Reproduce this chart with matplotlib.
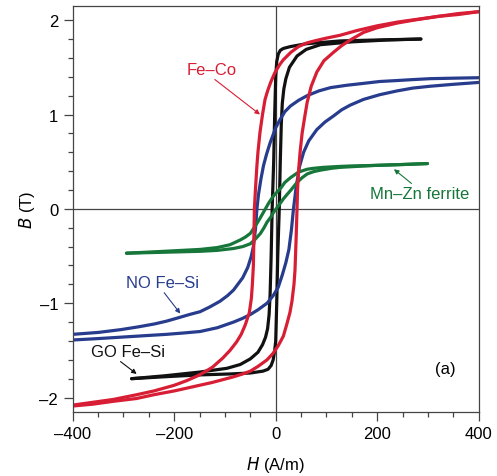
import numpy as np
import matplotlib.pyplot as plt
from matplotlib.ticker import MultipleLocator, FuncFormatter

# Fe-Co loop (H in A/m, B in T)
feco_up_H = [400, 360, 320, 280, 240, 200, 160, 127, 100, 80, 62, 45, 30, 15, 8, -2, -10,
             -16, -21, -26, -31, -35, -37, -40, -42, -43, -44, -46, -48, -52, -60, -68, -77,
             -90, -104, -125, -150, -175, -200, -240, -274, -320, -360, -400]
feco_up_B = [2.09, 2.06, 2.04, 2.01, 1.98, 1.94, 1.89, 1.84, 1.81, 1.785, 1.76, 1.72, 1.66,
             1.58, 1.53, 1.44, 1.34, 1.25, 1.16, 1.00, 0.81, 0.60, 0.46, 0.20, 0.0, -0.30,
             -0.60, -0.80, -0.95, -1.10, -1.23, -1.33, -1.41, -1.50, -1.58, -1.68, -1.76,
             -1.82, -1.87, -1.93, -1.97, -2.02, -2.05, -2.08]
feco_dn_H = [-400, -360, -320, -274, -240, -200, -175, -150, -125, -104, -83, -65, -50, -35,
             -17, -5, 5, 15, 22, 28, 32, 36, 38, 40, 42, 43, 45, 48, 52, 57, 62, 70, 81, 95,
             114, 130, 147, 173, 200, 240, 272, 320, 360, 400]
feco_dn_B = [-2.09, -2.07, -2.04, -2.01, -1.97, -1.93, -1.90, -1.87, -1.84, -1.81, -1.78,
             -1.75, -1.72, -1.67, -1.60, -1.53, -1.45, -1.35, -1.22, -1.10, -0.98, -0.80,
             -0.65, -0.35, 0.0, 0.20, 0.40, 0.60, 0.80, 0.97, 1.13, 1.30, 1.45, 1.57, 1.66,
             1.73, 1.79, 1.87, 1.92, 1.97, 2.00, 2.04, 2.07, 2.09]

# grain-oriented Fe-Si
go_up_H = [286, 200, 127, 60, 29, 15, 9, 5, 2, 0, -2, -4, -7, -9, -11, -13, -16, -20, -26,
           -35, -50, -70, -96, -150, -220, -284]
go_up_B = [1.80, 1.79, 1.78, 1.75, 1.72, 1.70, 1.68, 1.64, 1.56, 1.40, 1.00, 0.50, 0.0,
           -0.50, -0.90, -1.12, -1.27, -1.36, -1.44, -1.52, -1.59, -1.65, -1.69, -1.73,
           -1.77, -1.80]
go_dn_H = [-284, -220, -150, -90, -50, -25, -15, -9, -5, -2, 0, 2, 4, 7, 9, 11, 13, 16, 20,
           27, 42, 60, 88, 150, 220, 286]
go_dn_B = [-1.80, -1.78, -1.76, -1.75, -1.74, -1.72, -1.70, -1.66, -1.60, -1.50, -1.40,
           -1.00, -0.50, 0.0, 0.50, 0.90, 1.12, 1.27, 1.38, 1.50, 1.62, 1.69, 1.74, 1.77,
           1.79, 1.80]

# non-oriented Fe-Si
no_up_H = [400, 350, 305, 270, 239, 205, 173, 140, 108, 85, 62, 45, 29, 18, 9, 0, -11, -18,
           -24, -29, -34, -37, -40, -44, -48, -55, -65, -83, -95, -110, -130, -149, -170,
           -189, -215, -239, -270, -305, -350, -400]
no_up_B = [1.39, 1.385, 1.38, 1.37, 1.36, 1.35, 1.33, 1.31, 1.285, 1.25, 1.20, 1.15, 1.09,
           1.03, 0.95, 0.86, 0.70, 0.58, 0.46, 0.32, 0.15, 0.0, -0.22, -0.40, -0.50, -0.62,
           -0.73, -0.86, -0.92, -0.98, -1.04, -1.09, -1.12, -1.15, -1.19, -1.22, -1.25,
           -1.28, -1.31, -1.33]
no_dn_H = [-400, -350, -305, -260, -215, -180, -149, -115, -83, -65, -50, -35, -17, -5, 5,
           13, 20, 26, 31, 35, 40, 47, 55, 65, 81, 97, 114, 130, 147, 173, 205, 239, 270,
           305, 350, 400]
no_dn_B = [-1.39, -1.375, -1.36, -1.345, -1.33, -1.315, -1.30, -1.26, -1.20, -1.16, -1.12,
           -1.07, -1.00, -0.92, -0.83, -0.70, -0.57, -0.43, -0.22, 0.0, 0.22, 0.45, 0.60,
           0.72, 0.84, 0.92, 0.985, 1.05, 1.10, 1.16, 1.21, 1.25, 1.28, 1.30, 1.32, 1.34]

# Mn-Zn ferrite
mnzn_up_H = [299, 250, 193, 150, 127, 94, 75, 62, 45, 29, 18, 10, 3, -4, -14, -24, -32, -40,
             -50, -60, -70, -90, -115, -149, -220, -294]
mnzn_up_B = [0.48, 0.47, 0.46, 0.455, 0.45, 0.44, 0.43, 0.42, 0.39, 0.33, 0.28, 0.22, 0.18,
             0.14, 0.06, -0.035, -0.11, -0.18, -0.26, -0.30, -0.33, -0.38, -0.41, -0.43,
             -0.45, -0.47]
mnzn_dn_H = [-294, -220, -149, -115, -83, -65, -50, -40, -30, -23, -17, -10, -4, 5, 15, 22,
             30, 42, 52, 62, 75, 88, 110, 127, 193, 250, 299]
mnzn_dn_B = [-0.47, -0.46, -0.45, -0.44, -0.42, -0.40, -0.37, -0.32, -0.26, -0.20, -0.14,
             -0.09, -0.035, 0.03, 0.105, 0.15, 0.20, 0.28, 0.33, 0.37, 0.395, 0.41, 0.43,
             0.44, 0.46, 0.47, 0.48]

red = '#d81e35'
black = '#111111'
blue = '#283c8e'
green = '#17773a'

plt.rcParams['font.family'] = ['Liberation Sans', 'DejaVu Sans']
plt.rcParams['font.size'] = 12

fig = plt.figure(figsize=(4.97, 4.77), dpi=100)
ax = fig.add_axes([0.1463, 0.1348, 0.8169, 0.8505])

lw = 2.3
ax.plot(go_up_H, go_up_B, color=black, lw=lw, solid_capstyle='round')
ax.plot(go_dn_H, go_dn_B, color=black, lw=lw, solid_capstyle='round')
ax.plot(no_up_H, no_up_B, color=blue, lw=lw)
ax.plot(no_dn_H, no_dn_B, color=blue, lw=lw)
ax.plot(mnzn_up_H, mnzn_up_B, color=green, lw=lw, solid_capstyle='round')
ax.plot(mnzn_dn_H, mnzn_dn_B, color=green, lw=lw, solid_capstyle='round')
ax.plot(feco_up_H, feco_up_B, color=red, lw=lw)
ax.plot(feco_dn_H, feco_dn_B, color=red, lw=lw)

ax.axhline(0, color='#444444', lw=0.9, zorder=0)
ax.axvline(0, color='#444444', lw=0.9, zorder=0)

ax.set_xlim(-400, 400)
ax.set_ylim(-2.15, 2.15)
ax.xaxis.set_major_locator(MultipleLocator(200))
ax.xaxis.set_minor_locator(MultipleLocator(50))
ax.yaxis.set_major_locator(MultipleLocator(1))
ax.yaxis.set_minor_locator(MultipleLocator(0.2))
dash = FuncFormatter(lambda v, pos: f'{v:g}'.replace('-', '–'))
ax.xaxis.set_major_formatter(dash)
ax.yaxis.set_major_formatter(dash)
ax.tick_params(which='major', length=6.5, width=0.9, color='#444444', pad=4)
ax.tick_params(which='minor', length=3.5, width=0.9, color='#444444')
for s in ax.spines.values():
    s.set_color('#444444')
    s.set_linewidth(0.9)

ax.set_xlabel(r'$\it{H}$ (A/m)', labelpad=9)
ax.set_ylabel(r'$\it{B}$ (T)', labelpad=2)

arrow = dict(arrowstyle='-|>', lw=0.8, mutation_scale=7, shrinkA=0, shrinkB=0)
ax.annotate('Fe–Co', xy=(-31, 1.00), xytext=(-127, 1.48), color=red, ha='center',
            va='center', arrowprops=dict(arrow, color=red, relpos=(0.5, 0.0)))
ax.annotate('Mn–Zn ferrite', xy=(233, 0.42), xytext=(284, 0.16), color=green,
            ha='center', va='center',
            arrowprops=dict(arrow, color=green, relpos=(0.45, 1.0)))
ax.annotate('NO Fe–Si', xy=(-188, -1.11), xytext=(-224, -0.78), color=blue,
            ha='center', va='center',
            arrowprops=dict(arrow, color=blue, relpos=(0.5, 0.0)))
ax.annotate('GO Fe–Si', xy=(-274, -1.75), xytext=(-291, -1.51), color=black,
            ha='center', va='center',
            arrowprops=dict(arrow, color=black, relpos=(0.35, 0.0)))
ax.text(335, -1.69, '(a)', ha='center', va='center')

fig.savefig('out.png', dpi=100)
